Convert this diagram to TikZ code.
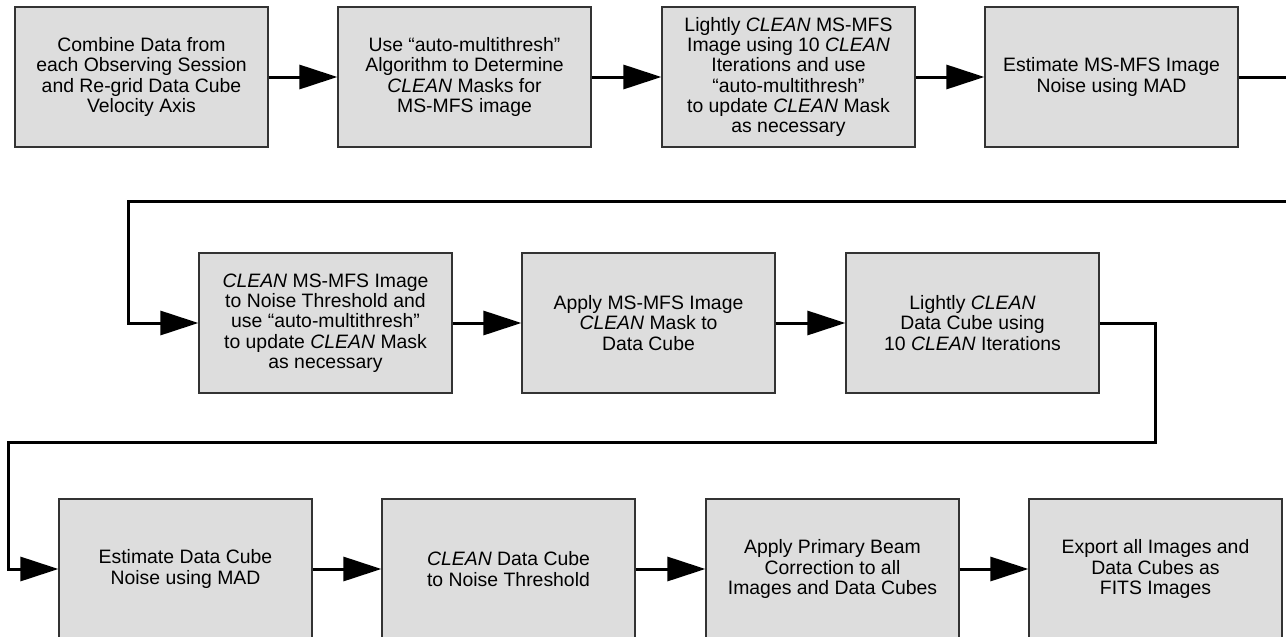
\documentclass[tikz,border=0pt]{standalone}
\usepackage{fontspec}
\setmainfont{Liberation Sans}
\usetikzlibrary{arrows.meta}
\definecolor{boxfill}{HTML}{DDDDDD}
\definecolor{boxline}{HTML}{333333}
\tikzset{
  stepbox/.style={draw=boxline, line width=1.2pt, fill=boxfill, minimum width=253pt, minimum height=140pt,
    inner sep=0pt, align=center, font=\fontsize{19.4}{20.3}\selectfont},
  flow/.style={line width=3pt, -{Triangle[length=38pt,width=24pt]}}
}
\begin{document}
\begin{tikzpicture}[x=1pt,y=-1pt]
\useasboundingbox (0,0) rectangle (1286,637);
% row 1
\node[stepbox] (b1) at (141.5,77) {Combine Data from\\each Observing Session\\and Re-grid Data Cube\\Velocity Axis};
\node[stepbox] (b2) at (464.5,77) {Use “auto-multithresh”\\Algorithm to Determine\\\textit{CLEAN} Masks for\\MS-MFS image};
\node[stepbox] (b3) at (788.5,77) {Lightly \textit{CLEAN} MS-MFS\\Image using 10 \textit{CLEAN}\\Iterations and use\\“auto-multithresh”\\to update \textit{CLEAN} Mask\\as necessary};
\node[stepbox] (b4) at (1111.5,77) {Estimate MS-MFS Image\\Noise using MAD};
% row 2
\node[stepbox] (b5) at (325.5,323) {\textit{CLEAN} MS-MFS Image\\to Noise Threshold and\\use “auto-multithresh”\\to update \textit{CLEAN} Mask\\as necessary};
\node[stepbox] (b6) at (648.5,323) {Apply MS-MFS Image\\\textit{CLEAN} Mask to\\Data Cube};
\node[stepbox] (b7) at (972.5,323) {Lightly \textit{CLEAN}\\Data Cube using\\10 \textit{CLEAN} Iterations};
% row 3
\node[stepbox] (b8) at (185.5,569) {Estimate Data Cube\\Noise using MAD};
\node[stepbox] (b9) at (508.5,569) {\textit{CLEAN} Data Cube\\to Noise Threshold};
\node[stepbox] (b10) at (832.5,569) {Apply Primary Beam\\Correction to all\\Images and Data Cubes};
\node[stepbox] (b11) at (1155.5,569) {Export all Images and\\Data Cubes as\\FITS Images};
% connector waypoints
\coordinate (r1) at (1300,77);
\coordinate (r2) at (1300,201);
\coordinate (r3) at (128,201);
\coordinate (s1) at (1155,323);
\coordinate (s2) at (1155,442);
\coordinate (s3) at (8,442);
% connectors
\draw[flow] (b1) -- (b2);
\draw[flow] (b2) -- (b3);
\draw[flow] (b3) -- (b4);
\draw[flow] (b4.east) -- (r1) -- (r2) -- (r3) |- (b5.west);
\draw[flow] (b5) -- (b6);
\draw[flow] (b6) -- (b7);
\draw[flow] (b7.east) -- (s1) -- (s2) -- (s3) |- (b8.west);
\draw[flow] (b8) -- (b9);
\draw[flow] (b9) -- (b10);
\draw[flow] (b10) -- (b11);
\end{tikzpicture}
\end{document}
